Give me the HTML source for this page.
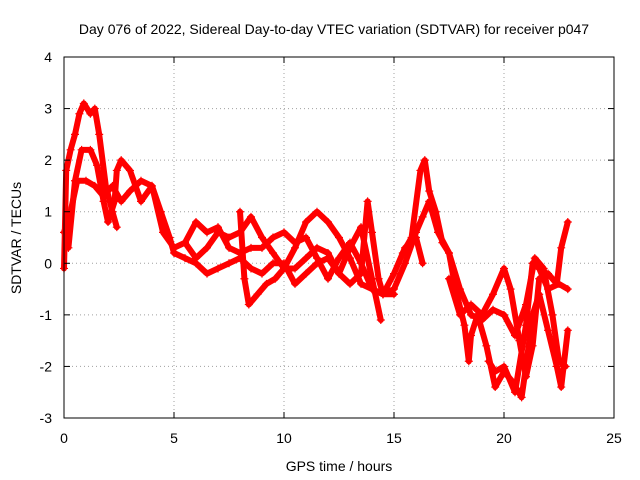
<!DOCTYPE html>
<html><head><meta charset="utf-8"><style>
body{margin:0;background:#fff;}
svg{display:block;font-family:"Liberation Sans",sans-serif;}
</style></head><body>
<svg width="640" height="480">
<g id="grid"></g>
<g id="series"></g>
<rect x="64" y="57" width="550" height="361" fill="none" stroke="#000" stroke-width="1"/>
<g id="ticks"></g>
<text x="334" y="34" text-anchor="middle" font-size="14">Day 076 of 2022, Sidereal Day-to-day VTEC variation (SDTVAR) for receiver p047</text>
<text x="339" y="471" text-anchor="middle" font-size="14">GPS time / hours</text>
<text transform="translate(21,238) rotate(-90)" text-anchor="middle" font-size="14">SDTVAR / TECUs</text>
</svg>
<script>
const xTicks=[0,5,10,15,20,25];
const yTicks=[-3,-2,-1,0,1,2,3,4];
const t1=[[0,-0.1],[0.1,1.8],[0.3,2.2],[0.5,2.5],[0.7,2.9],[0.9,3.1],[1.2,2.9],[1.4,3.0],[1.6,2.5],[1.9,1.5],[2.2,1.0],[2.4,0.7]];
const t2=[[0,0.6],[0.3,1.0],[0.6,1.6],[1.0,1.6],[1.4,1.5],[1.8,1.3],[2.2,1.5],[2.6,1.2],[3.0,1.4],[3.5,1.6],[4.0,1.5],[4.4,1.0],[4.8,0.5],[5.0,0.2],[5.5,0.1],[6.0,0.0],[6.5,-0.2],[7,-0.1],[7.5,0.0],[8.0,0.1],[8.5,-0.1],[9,-0.2],[9.5,0.0],[10,0.0],[10.5,-0.4],[11,-0.2],[11.5,0.0],[12,0.1],[12.5,-0.2],[13,0.3],[13.5,0.7],[14,-0.3],[14.4,-1.1]];
const t3=[[0.2,0.3],[0.5,1.6],[0.8,2.2],[1.2,2.2],[1.5,1.9],[1.8,1.2],[2.0,0.8],[2.3,1.2],[2.4,1.8],[2.6,2.0],[3.0,1.8],[3.5,1.2],[4.0,1.5],[4.5,0.6],[5,0.3],[5.5,0.4],[6,0.8],[6.5,0.6],[7,0.7],[7.5,0.3],[8,0.2],[8.5,0.3],[9,0.3],[9.5,0.5],[10,0.6],[10.5,0.4],[11,0.5],[11.5,0.1],[12,-0.3],[12.5,0.1],[13,0.4],[13.5,0.0],[14,-0.5],[14.5,-0.6],[15,-0.2],[15.5,0.3],[16,0.5],[16.3,0.0]];
const t4=[[5.5,0.4],[6,0.1],[6.5,0.3],[7,0.6],[7.5,0.5],[8,0.6],[8.5,0.9],[9,0.5],[9.5,0.2],[10,-0.1],[10.5,0.3],[11,0.8],[11.5,1.0],[12,0.8],[12.5,0.5],[13,0.1],[13.5,-0.4],[14,-0.5],[14.5,-0.6],[15,-0.6]];
const t5=[[8,1.0],[8.2,-0.3],[8.4,-0.8],[8.8,-0.6],[9.2,-0.4],[9.6,-0.3],[10,-0.1],[10.5,-0.1],[11,0.1],[11.5,0.3],[12,0.2],[12.5,-0.2],[13,-0.4],[13.5,-0.2],[13.8,1.2],[14.0,0.6],[14.3,-0.3],[14.5,-0.6],[15,-0.5],[15.5,0.0],[16,0.6],[16.3,0.9],[16.6,1.2],[17,0.6],[17.5,0.2],[18,-0.5],[18.5,-1.0],[19,-1.1],[19.5,-0.9],[20,-1.0],[20.5,-1.4],[21,-0.8],[21.4,0.1],[21.8,-0.1],[22.2,-1.0],[22.5,-1.9],[22.8,-2.0]];
const t6=[[15.4,0.2],[15.8,0.5],[16.2,1.8],[16.4,2.0],[16.6,1.4],[16.9,1.0],[17.2,0.4],[17.5,0.2],[17.8,-0.5],[18.2,-1.2],[18.4,-1.9],[18.5,-1.4],[18.8,-1.0],[19.2,-1.6],[19.6,-2.4],[20.0,-2.1],[20.4,-2.3],[20.8,-2.6],[21.0,-2.0],[21.3,-1.0],[21.6,-0.6],[22,-1.3],[22.4,-2.0],[22.6,-2.4],[22.9,-1.3]];
const t7=[[17.5,-0.3],[18,-1.0],[18.5,-0.8],[19,-1.0],[19.5,-0.6],[20,-0.1],[20.3,-0.5],[20.7,-1.5],[21.0,-2.2],[21.3,-1.6],[21.6,-0.3],[22,-0.2],[22.4,-0.4],[22.6,0.3],[22.9,0.8]];
const t8=[[19.3,-1.9],[19.6,-2.1],[20,-2.0],[20.5,-2.5],[21,-1.2],[21.3,0.0],[21.6,-0.1],[22,-0.5],[22.5,-0.4],[22.9,-0.5]];
const tracks=[t1,t2,t3,t4,t5,t6,t7,t8];
const X0=64,X1=614,Y0=418,Y1=57,xmin=0,xmax=25,ymin=-3,ymax=4;
const sx=v=>X0+(v-xmin)/(xmax-xmin)*(X1-X0);
const sy=v=>Y0-(v-ymin)/(ymax-ymin)*(Y0-Y1);
const NS='http://www.w3.org/2000/svg';
const grid=document.getElementById('grid'),ticks=document.getElementById('ticks'),ser=document.getElementById('series');
function mk(tag,a,p){const e=document.createElementNS(NS,tag);for(const k in a)e.setAttribute(k,a[k]);p.appendChild(e);return e;}
xTicks.forEach(v=>{const x=sx(v);
 if(v>xmin&&v<xmax){const g=mk('line',{x1:x,x2:x,y1:Y0,y2:Y1,stroke:'#a0a0a0','stroke-dasharray':'1,3'},grid);
 
 }
 mk('line',{x1:x,x2:x,y1:Y0,y2:Y0-6,stroke:'#000'},ticks);mk('line',{x1:x,x2:x,y1:Y1,y2:Y1+6,stroke:'#000'},ticks);
 const t=mk('text',{x:x,y:443,'text-anchor':'middle','font-size':'14'},ticks);t.textContent=v;
 
 });
yTicks.forEach(v=>{const y=sy(v);
 if(v>ymin&&v<ymax){const g=mk('line',{x1:X0,x2:X1,y1:y,y2:y,stroke:'#a0a0a0','stroke-dasharray':'1,3'},grid);
 
 }
 mk('line',{x1:X0,x2:X0+6,y1:y,y2:y,stroke:'#000'},ticks);mk('line',{x1:X1,x2:X1-6,y1:y,y2:y,stroke:'#000'},ticks);
 const t=mk('text',{x:52,y:y+5,'text-anchor':'end','font-size':'14'},ticks);t.textContent=v;
 
 });
tracks.forEach((tr,i)=>{
 const pl=mk('polyline',{points:tr.map(p=>sx(p[0])+','+sy(p[1])).join(' '),fill:'none',stroke:'#ff0000','stroke-width':'6','stroke-linejoin':'round','stroke-linecap':'round'},ser);
 
 
 tr.forEach(p=>{const x=sx(p[0]),y=sy(p[1]);
  const c=mk('path',{d:`M${x-4},${y}H${x+4}M${x},${y-4}V${y+4}`,stroke:'#ff0000','stroke-width':'1.2'},ser);
  
  });
});
</script>
</body></html>
